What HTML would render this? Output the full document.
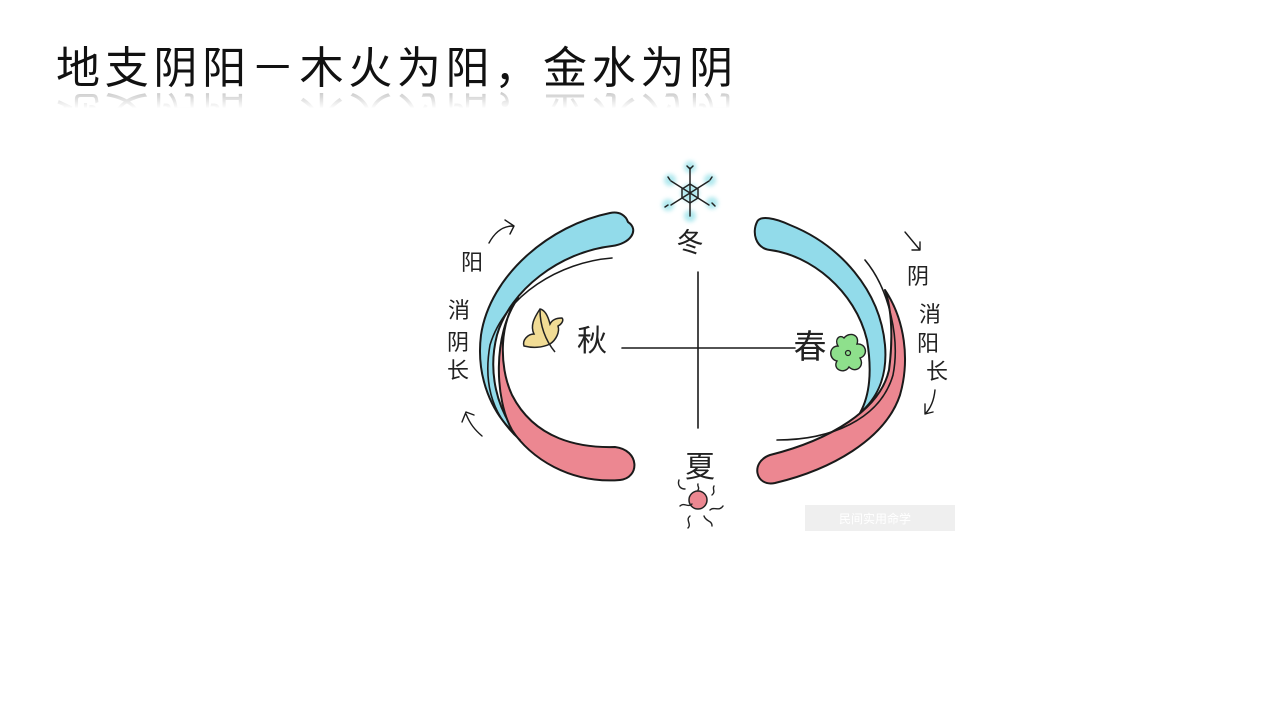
<!DOCTYPE html>
<html><head><meta charset="utf-8"><style>
html,body{margin:0;padding:0;background:#fff;width:1275px;height:701px;overflow:hidden}
.t{position:absolute;left:56px;top:44px;font-family:"Liberation Sans","Noto Sans CJK SC",sans-serif;font-size:44px;letter-spacing:4.7px;color:#111;white-space:nowrap;line-height:50px;height:50px}
.r{position:absolute;left:56px;top:86px;font-family:"Liberation Sans","Noto Sans CJK SC",sans-serif;font-size:44px;letter-spacing:4.7px;color:#111;white-space:nowrap;line-height:50px;height:50px;transform:scaleY(-1);opacity:.3;-webkit-mask-image:linear-gradient(to top,rgba(0,0,0,1) 0%,rgba(0,0,0,0) 45%);mask-image:linear-gradient(to top,rgba(0,0,0,1) 0%,rgba(0,0,0,0) 45%)}
svg{position:absolute;left:0;top:0}
svg text{font-family:"Liberation Sans","Noto Sans CJK SC",sans-serif;fill:#222}
</style></head><body>
<div class="t">地支阴阳－木火为阳，金水为阴</div>
<div class="r">地支阴阳－木火为阳，金水为阴</div>
<svg width="1275" height="701" viewBox="0 0 1275 701">
<defs><filter id="b"><feGaussianBlur stdDeviation="2"/></filter></defs>
<g stroke="#1a1a1a" stroke-width="2" stroke-linejoin="round" stroke-linecap="round">
<path d="M628,222 C640,230 630,244 612,246 C560,252 510,290 497,335 C488,370 495,410 522,440 C490,415 476,375 481,335 C490,275 550,225 610,213 C620,211 626,216 628,222 Z" fill="#92dbea"/>
<path d="M518,298 C500,320 498,365 512,395 C535,440 580,448 615,447 C640,450 640,478 620,480 C570,484 530,458 512,430 C495,400 492,335 518,298 Z" fill="#ec8791"/>
<path d="M612,258 C560,262 505,295 490,345 C482,390 497,420 520,440" fill="none" stroke-width="1.6"/>
<path d="M757,222 C760,215 775,218 790,225 C840,245 880,290 885,345 C888,380 875,400 860,413 C870,395 872,370 867,340 C855,290 810,255 770,250 C755,248 752,232 757,222 Z" fill="#92dbea"/>
<path d="M885,290 C905,320 910,360 900,395 C885,440 830,470 775,483 C755,487 750,462 770,455 C830,440 880,410 889,370 C893,340 892,310 885,290 Z" fill="#ec8791"/>
<path d="M865,260 C890,290 900,340 893,375 C880,420 830,440 777,440" fill="none" stroke-width="1.6"/>
<path d="M622,348 H795 M698,272 V428" fill="none" stroke-width="1.6"/>
<path d="M489,243 C495,232 503,226 513,226 M505,220 L514,226 L510,234" fill="none" stroke-width="1.4"/>
<path d="M482,436 C475,430 470,424 466,414 M462,422 L466,412 L474,415" fill="none" stroke-width="1.4"/>
<path d="M905,232 L920,250 M912,250 L920,250 L920,242" fill="none" stroke-width="1.4"/>
<path d="M935,390 C934,400 931,408 925,414 M925,404 L925,414 L933,412" fill="none" stroke-width="1.4"/>
</g>
<g fill="#9de3ea" opacity=".8" filter="url(#b)">
<circle cx="690" cy="167" r="6"/><circle cx="670" cy="180" r="6"/><circle cx="710" cy="180" r="6"/><circle cx="668" cy="205" r="6"/><circle cx="712" cy="203" r="6"/><circle cx="690" cy="216" r="6"/><circle cx="690" cy="193" r="9"/>
</g>
<g stroke="#222" stroke-width="1.5" fill="none" stroke-linecap="round">
<path d="M690,168 V216 M671,181 L709,205 M709,181 L671,205"/>
<polygon points="690,184 698,189 698,198 690,203 682,198 682,189"/>
<path d="M687,166 L690,169 L693,166 M668,205 L665,207 M712,203 L715,206 M670,180 L668,177 M710,180 L712,177"/>
</g>
<path d="M540,309 C534,318 530,326 534,334 C528,334 522,340 524,346 C532,348 542,348 550,344 C556,340 560,332 558,326 C562,324 564,320 562,318 C556,318 552,320 550,324 C548,316 545,310 540,309 Z" fill="#f1dc95" stroke="#222" stroke-width="1.5"/>
<path d="M540,310 C540,325 545,340 555,352" fill="none" stroke="#222" stroke-width="1.5"/>
<g transform="translate(848,353)">
<path d="M-4,-15 C2,-22 12,-18 9,-9 C18,-10 21,2 12,5 C17,13 8,21 1,14 C-4,22 -16,16 -11,8 C-20,6 -19,-7 -10,-7 C-14,-14 -8,-19 -4,-15 Z" fill="#8ee08c" stroke="#222" stroke-width="1.4"/>
<circle cx="0" cy="0" r="2.5" fill="none" stroke="#222" stroke-width="1.2"/>
</g>
<circle cx="698" cy="500" r="9" fill="#ec8791" stroke="#222" stroke-width="1.5"/>
<g stroke="#222" stroke-width="1.4" fill="none" stroke-linecap="round">
<path d="M679,480 C677,486 681,489 685,489 M698,484 C697,486 700,488 698,490 M714,486 C712,489 716,492 712,495 M680,506 C684,502 688,508 692,504 M710,510 C714,506 719,512 723,506 M690,516 C685,520 692,524 688,528 M704,516 C706,522 712,520 712,526"/>
</g>
<text x="690" y="252" font-size="27" text-anchor="middle">冬</text>
<text x="700" y="477" font-size="30" text-anchor="middle">夏</text>
<text x="592" y="351" font-size="30" text-anchor="middle">秋</text>
<text x="810" y="358" font-size="33" text-anchor="middle">春</text>
<g font-size="22" text-anchor="middle">
<text x="472" y="270">阳</text><text x="459" y="318">消</text><text x="458" y="350">阴</text><text x="458" y="378">长</text>
<text x="918" y="284">阴</text><text x="930" y="322">消</text><text x="928" y="351">阳</text><text x="937" y="379">长</text>
</g>
<rect x="805" y="505" width="150" height="26" fill="#e8e8e8" opacity=".7"/>
<text x="875" y="523" font-size="12" text-anchor="middle" style="fill:#fff">民间实用命学</text>
</svg>
</body></html>
